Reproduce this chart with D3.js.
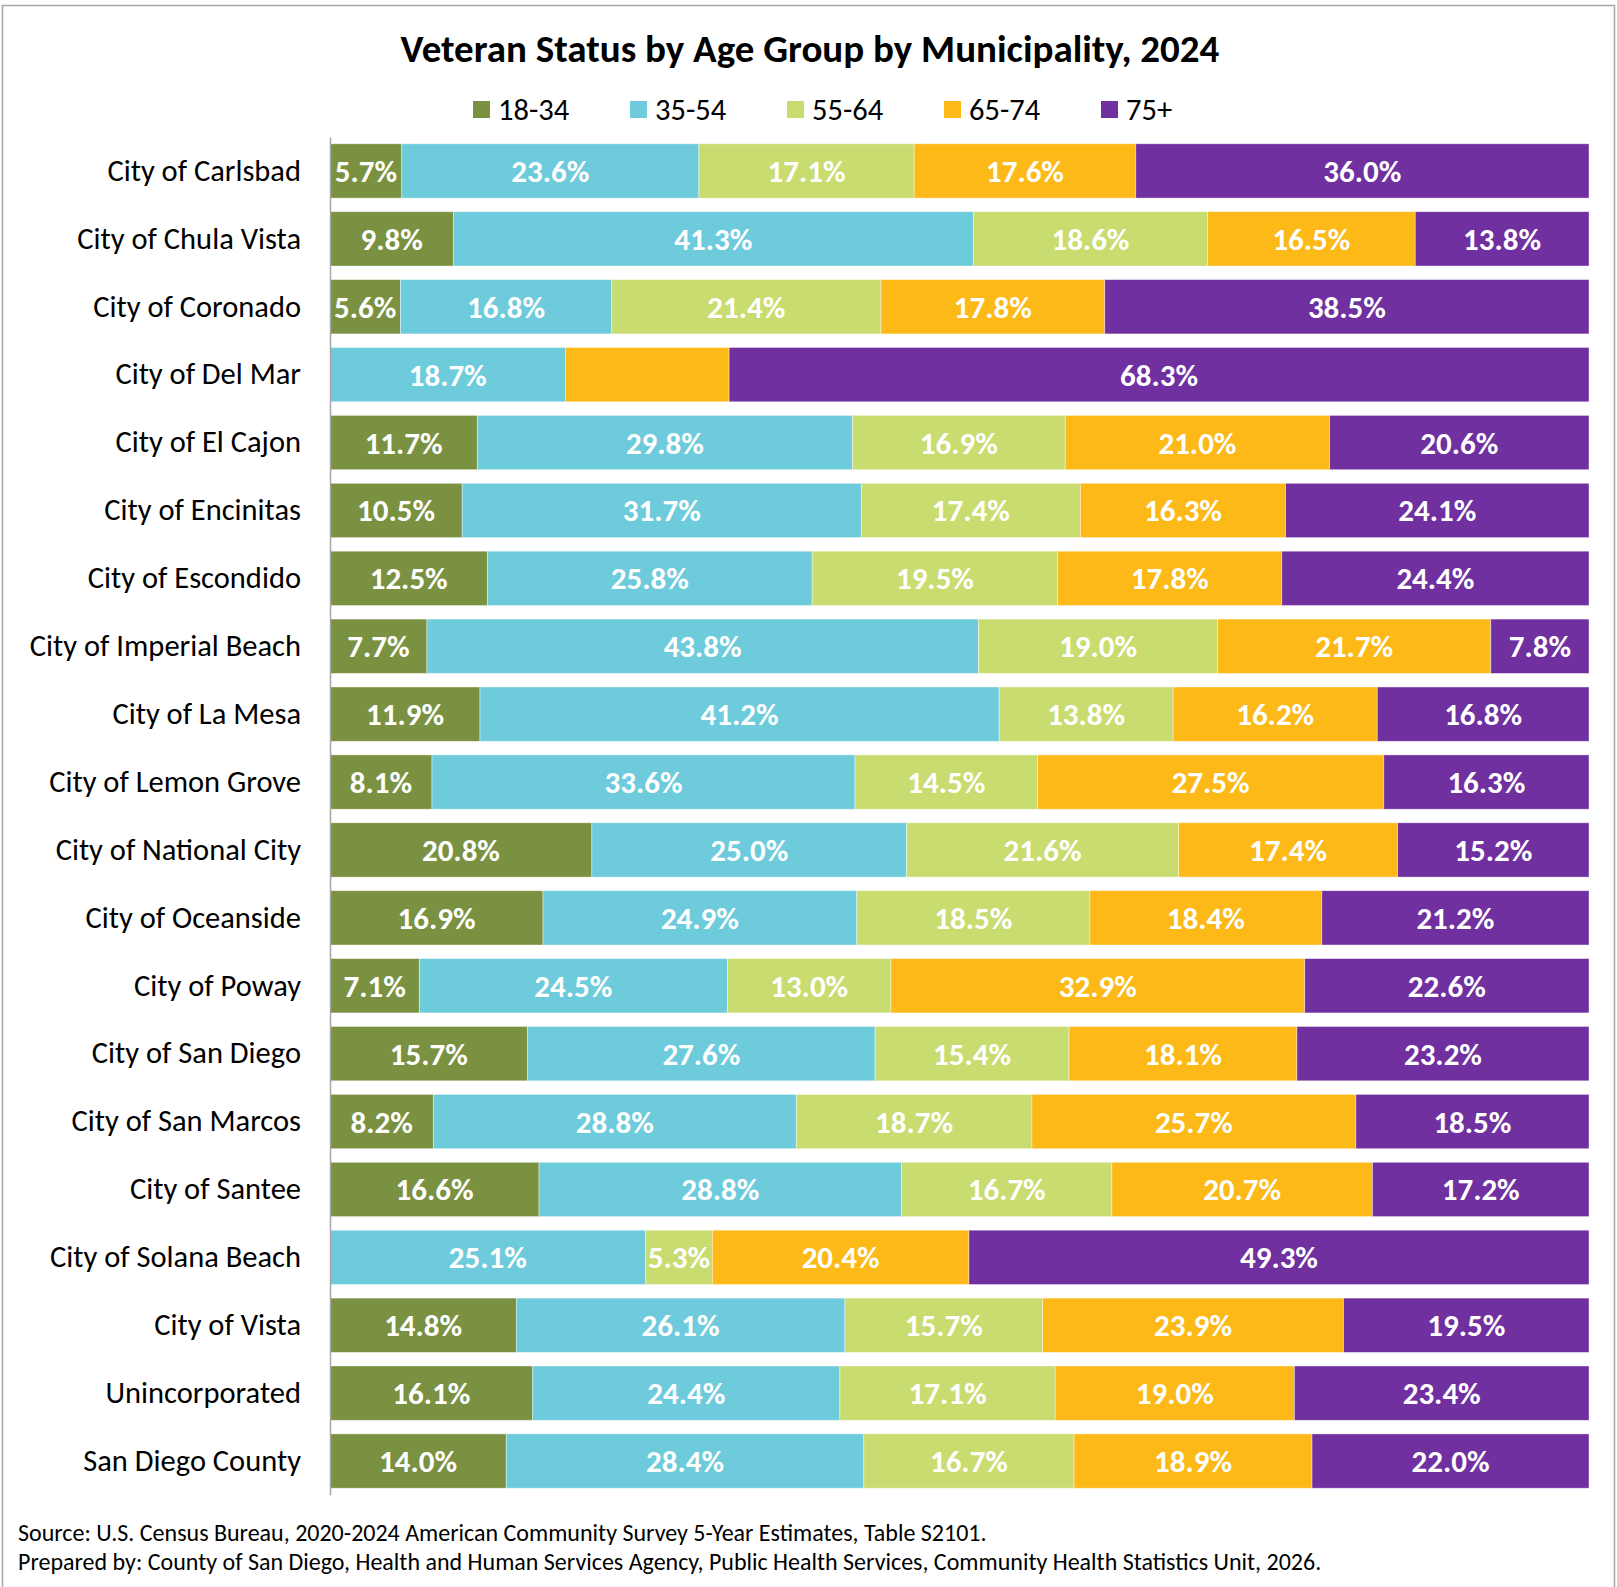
<!DOCTYPE html>
<html>
<head>
<meta charset="utf-8">
<script src="https://cdn.jsdelivr.net/npm/d3@7"></script>
<style>
  html, body { margin: 0; padding: 0; background: #fff; }
  svg { display: block; font-family: Carlito, Calibri, Lato, sans-serif; }
</style>
</head>
<body>
<svg id="chart" width="1617" height="1587"></svg>
<script>
// categories (top to bottom)
const places = [
  'City of Carlsbad', 'City of Chula Vista', 'City of Coronado', 'City of Del Mar',
  'City of El Cajon', 'City of Encinitas', 'City of Escondido', 'City of Imperial Beach',
  'City of La Mesa', 'City of Lemon Grove', 'City of National City', 'City of Oceanside',
  'City of Poway', 'City of San Diego', 'City of San Marcos', 'City of Santee',
  'City of Solana Beach', 'City of Vista', 'Unincorporated', 'San Diego County'
];

const ageGroups = ['18-34', '35-54', '55-64', '65-74', '75+'];
const ageColors = ['#7A9141', '#6ECBDC', '#C9DC6F', '#FDB917', '#7030A0'];

// percent of veterans in each age group, one array per group, same order as places
const age18to34 = [5.7, 9.8, 5.6, 0, 11.7, 10.5, 12.5, 7.7, 11.9, 8.1, 20.8, 16.9, 7.1, 15.7, 8.2, 16.6, 0, 14.8, 16.1, 14.0];
const age35to54 = [23.6, 41.3, 16.8, 18.7, 29.8, 31.7, 25.8, 43.8, 41.2, 33.6, 25.0, 24.9, 24.5, 27.6, 28.8, 28.8, 25.1, 26.1, 24.4, 28.4];
const age55to64 = [17.1, 18.6, 21.4, 0, 16.9, 17.4, 19.5, 19.0, 13.8, 14.5, 21.6, 18.5, 13.0, 15.4, 18.7, 16.7, 5.3, 15.7, 17.1, 16.7];
const age65to74 = [17.6, 16.5, 17.8, 13.0, 21.0, 16.3, 17.8, 21.7, 16.2, 27.5, 17.4, 18.4, 32.9, 18.1, 25.7, 20.7, 20.4, 23.9, 19.0, 18.9];
const age75plus = [36.0, 13.8, 38.5, 68.3, 20.6, 24.1, 24.4, 7.8, 16.8, 16.3, 15.2, 21.2, 22.6, 23.2, 18.5, 17.2, 49.3, 19.5, 23.4, 22.0];

// segments shown without a data label in the original
const hiddenLabels = [['City of Del Mar', '65-74']];

const titleText = 'Veteran Status by Age Group by Municipality, 2024';
const footerLines = [
  'Source: U.S. Census Bureau, 2020-2024 American Community Survey 5-Year Estimates, Table S2101.',
  'Prepared by: County of San Diego, Health and Human Services Agency, Public Health Services, Community Health Statistics Unit, 2026.'
];

const series = [age18to34, age35to54, age55to64, age65to74, age75plus];
const rows = places.map((p, i) => {
  const r = { place: p };
  ageGroups.forEach((g, j) => { r[g] = series[j][i]; });
  return r;
});

const svg = d3.select('#chart');
const margin = { top: 137, right: 28, bottom: 92, left: 330 };
const width = 1617 - margin.left - margin.right;
const height = 1587 - margin.top - margin.bottom;

// outer frame
svg.append('rect')
  .attr('x', 2.5).attr('y', 5.5)
  .attr('width', 1612).attr('height', 1590)
  .attr('fill', 'none')
  .attr('stroke', '#A6A6A6')
  .attr('stroke-width', 1.5);

svg.append('text')
  .attr('x', 810).attr('y', 48)
  .attr('text-anchor', 'middle')
  .attr('dominant-baseline', 'central')
  .style('font-size', '39px')
  .style('font-weight', 'bold')
  .attr('fill', '#000')
  .text(titleText);

// legend
const legend = svg.append('g').attr('transform', 'translate(473,101)');
const legendItem = legend.selectAll('g')
  .data(ageGroups)
  .join('g')
  .attr('transform', (d, i) => `translate(${i * 157},0)`);
legendItem.append('rect')
  .attr('width', 17).attr('height', 17)
  .attr('fill', (d, i) => ageColors[i]);
legendItem.append('text')
  .attr('x', 25).attr('y', 8.5)
  .attr('dominant-baseline', 'central')
  .style('font-size', '30.5px')
  .attr('fill', '#000')
  .text(d => d);

const stack = d3.stack().keys(ageGroups).offset(d3.stackOffsetExpand);
const layers = stack(rows);

const x = d3.scaleLinear().domain([0, 1]).range([0, width]);
const y = d3.scaleBand()
  .domain(places)
  .range([0, height])
  .paddingInner(0.2)
  .paddingOuter(0.1);
const color = d3.scaleOrdinal().domain(ageGroups).range(ageColors);

const plot = svg.append('g').attr('transform', `translate(${margin.left},${margin.top})`);

const layer = plot.selectAll('g.layer')
  .data(layers)
  .join('g')
  .attr('class', 'layer')
  .attr('fill', d => color(d.key));

layer.selectAll('rect')
  .data(d => d.filter(s => s[1] > s[0]))
  .join('rect')
  .attr('x', d => x(d[0]))
  .attr('y', d => y(d.data.place))
  .attr('width', d => x(d[1]) - x(d[0]))
  .attr('height', y.bandwidth())
  .attr('stroke', '#fff')
  .attr('stroke-width', 0.8)
  .attr('stroke-opacity', 0.5);

const isHidden = (place, key) => hiddenLabels.some(h => h[0] === place && h[1] === key);

layer.selectAll('text')
  .data(d => d.filter(s => s[1] > s[0] && !isHidden(s.data.place, d.key)).map(s => ({ s, key: d.key })))
  .join('text')
  .attr('x', d => x((d.s[0] + d.s[1]) / 2))
  .attr('y', d => y(d.s.data.place) + y.bandwidth() / 2)
  .attr('text-anchor', 'middle')
  .attr('dominant-baseline', 'central')
  .attr('fill', '#fff')
  .style('font-size', '31px')
  .style('font-weight', 'bold')
  .text(d => d.s.data[d.key].toFixed(1) + '%');

// category axis
const yAxis = plot.append('g').call(d3.axisLeft(y).tickSize(0).tickPadding(29));
yAxis.select('.domain').attr('stroke', '#A6A6A6').attr('stroke-width', 1.5);
yAxis.selectAll('text')
  .style('font-size', '30.5px')
  .style('font-family', 'Carlito, Calibri, Lato, sans-serif')
  .attr('fill', '#000');

// footer
svg.selectAll('text.footer')
  .data(footerLines)
  .join('text')
  .attr('class', 'footer')
  .attr('x', 18)
  .attr('y', (d, i) => 1532 + i * 29)
  .attr('dominant-baseline', 'central')
  .style('font-size', '24px')
  .attr('fill', '#000')
  .text(d => d);
</script>
</body>
</html>
